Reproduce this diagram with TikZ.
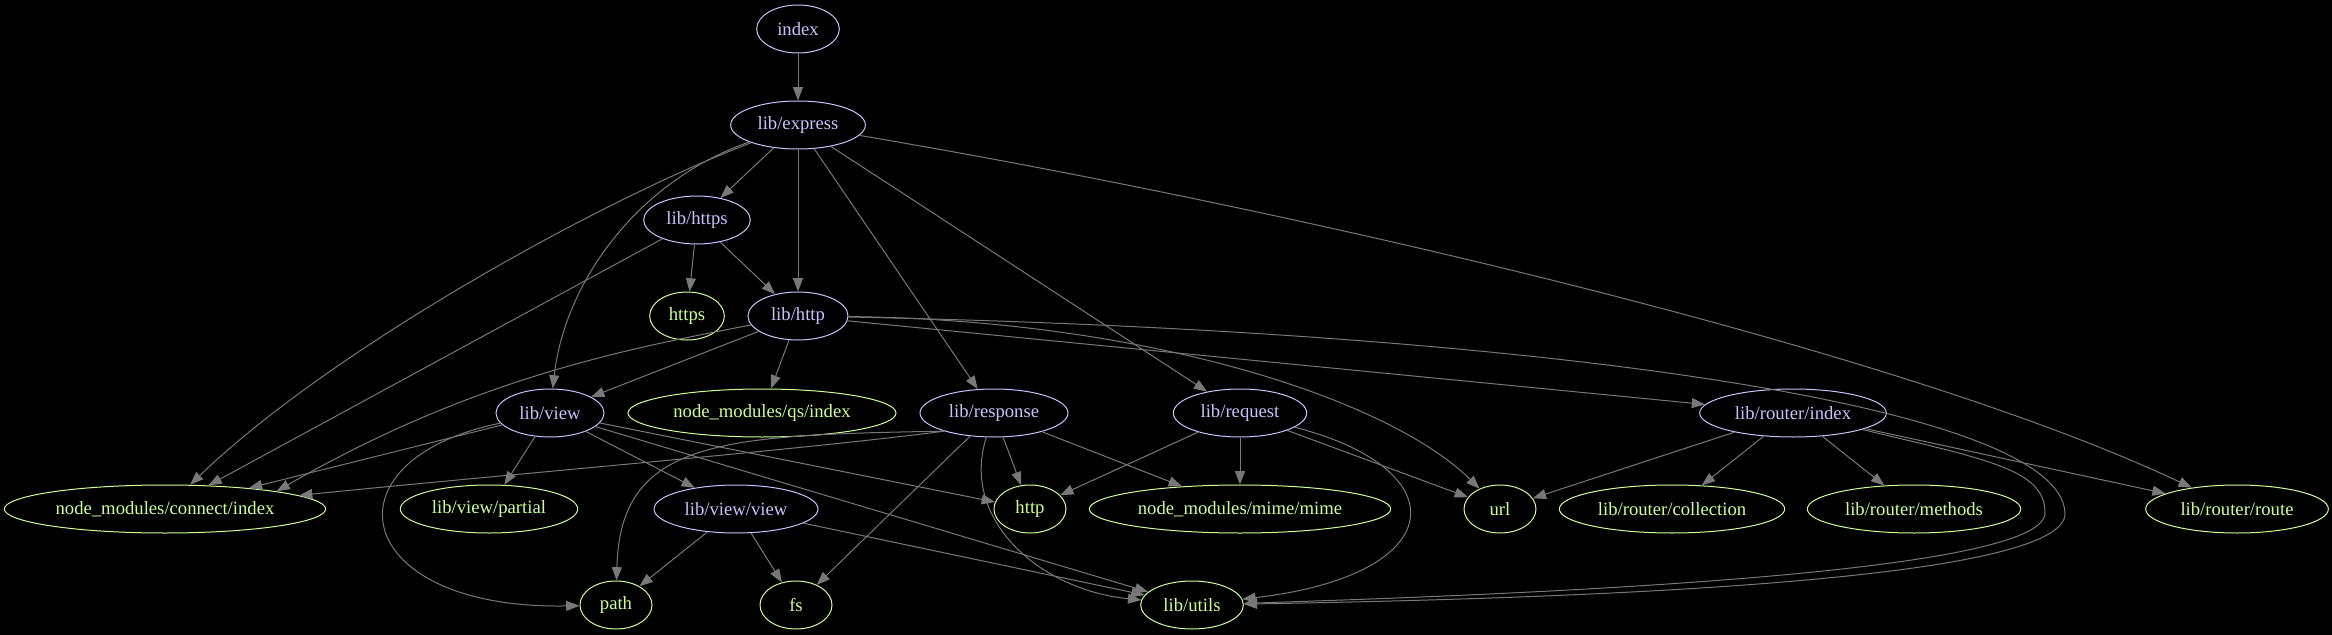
\documentclass[tikz,border=0pt]{standalone}
\usepackage{fontspec}
\setmainfont{Liberation Serif}
\usetikzlibrary{shapes.geometric,arrows.meta}
\definecolor{modblue}{HTML}{C4C4FF}
\definecolor{extgreen}{HTML}{CCFF99}
\definecolor{edgegrey}{HTML}{787878}
\tikzset{
  mdl/.style  ={ellipse, draw=modblue, text=modblue, line width=0.75pt,
                inner sep=0pt, minimum height=36pt, font=\fontsize{14}{16}\selectfont},
  pkg/.style  ={mdl, draw=extgreen, text=extgreen},
  dep/.style  ={-{Triangle[length=10pt,width=7.5pt]}, line width=0.75pt, draw=edgegrey}
}

\begin{document}
\begin{tikzpicture}[x=0.75pt,y=-0.75pt]
  \path[use as bounding box,fill=black] (0,0) rectangle (2332,635);
  \node[mdl,minimum width=62pt]  (index)    at (798,29)   {index};
  \node[mdl,minimum width=101pt] (express)  at (798,125)  {lib/express};
  \node[mdl,minimum width=80pt]  (lhttps)   at (697,220)  {lib/https};
  \node[pkg,minimum width=56pt]  (https)    at (687,316)  {https};
  \node[mdl,minimum width=75pt]  (lhttp)    at (798,316)  {lib/http};
  \node[mdl,minimum width=81pt]  (view)     at (550,413)  {lib/view};
  \node[pkg,minimum width=201pt] (qs)       at (762,413)  {node\_modules/qs/index};
  \node[mdl,minimum width=111pt] (response) at (994,413)  {lib/response};
  \node[mdl,minimum width=100pt] (request)  at (1240,413) {lib/request};
  \node[mdl,minimum width=140pt] (router)   at (1793,413) {lib/router/index};
  \node[pkg,minimum width=241pt] (connect)  at (165,509)  {node\_modules/connect/index};
  \node[pkg,minimum width=133pt] (partial)  at (489,509)  {lib/view/partial};
  \node[mdl,minimum width=123pt] (vview)    at (736,509)  {lib/view/view};
  \node[pkg,minimum width=54pt]  (http)     at (1030,509) {http};
  \node[pkg,minimum width=226pt] (mime)     at (1240,509) {node\_modules/mime/mime};
  \node[pkg,minimum width=54pt]  (url)      at (1500,509) {url};
  \node[pkg,minimum width=169pt] (collect)  at (1672,509) {lib/router/collection};
  \node[pkg,minimum width=160pt] (methods)  at (1914,509) {lib/router/methods};
  \node[pkg,minimum width=137pt] (route)    at (2237,509) {lib/router/route};
  \node[pkg,minimum width=54pt]  (pathm)    at (616,605)  {path};
  \node[pkg,minimum width=54pt]  (fs)       at (796,605)  {fs};
  \node[pkg,minimum width=77pt]  (utils)    at (1192,605) {lib/utils};

  \draw[dep] (index) -- (express);
  \draw[dep] (express) -- (lhttps); \draw[dep] (express) -- (lhttp);
  \draw[dep] (express) .. controls (600,200) and (330,350) .. (connect);
  \draw[dep] (express) .. controls (640,180) and (565,280) .. (view);
  \draw[dep] (express) -- (response); \draw[dep] (express) -- (request);
  \draw[dep] (express) .. controls (1300,210) and (1900,350) .. (route);
  \draw[dep] (lhttps) -- (https); \draw[dep] (lhttps) -- (lhttp);
  \draw[dep] (lhttps) -- (connect);
  \draw[dep] (lhttp) -- (view); \draw[dep] (lhttp) -- (qs);
  \draw[dep] (lhttp) .. controls (620,350) and (470,380) .. (connect.9);
  \draw[dep] (lhttp) .. controls (1150,320) and (1390,400) .. (url);
  \draw[dep] (lhttp) -- (router);
  \draw[dep] (lhttp) .. controls (1500,330) and (2060,400) .. (2065,513)
                     .. controls (2068,580) and (1600,598) .. (utils);
  \draw[dep] (view) -- (connect); \draw[dep] (view) -- (partial);
  \draw[dep] (view) -- (vview);
  \draw[dep] (view) .. controls (320,460) and (350,610) .. (pathm);
  \draw[dep] (view) -- (http); \draw[dep] (view) -- (utils);
  \draw[dep] (response.200) .. controls (800,450) and (500,475) .. (connect);
  \draw[dep] (response.200) .. controls (720,435) and (620,440) .. (pathm);
  \draw[dep] (response) -- (fs); \draw[dep] (response) -- (http);
  \draw[dep] (response) .. controls (960,520) and (1040,590) .. (utils);
  \draw[dep] (response) -- (mime);
  \draw[dep] (request) -- (http); \draw[dep] (request) -- (mime);
  \draw[dep] (request) -- (url);
  \draw[dep] (request) .. controls (1460,470) and (1450,575) .. (utils);
  \draw[dep] (router) -- (url); \draw[dep] (router) -- (collect);
  \draw[dep] (router) -- (methods); \draw[dep] (router) -- (route);
  \draw[dep] (router) .. controls (1990,460) and (2045,470) .. (2045,513)
                      .. controls (2045,570) and (1600,592) .. (utils);
  \draw[dep] (vview) -- (pathm); \draw[dep] (vview) -- (fs);
  \draw[dep] (vview) -- (utils);
\end{tikzpicture}
\end{document}
